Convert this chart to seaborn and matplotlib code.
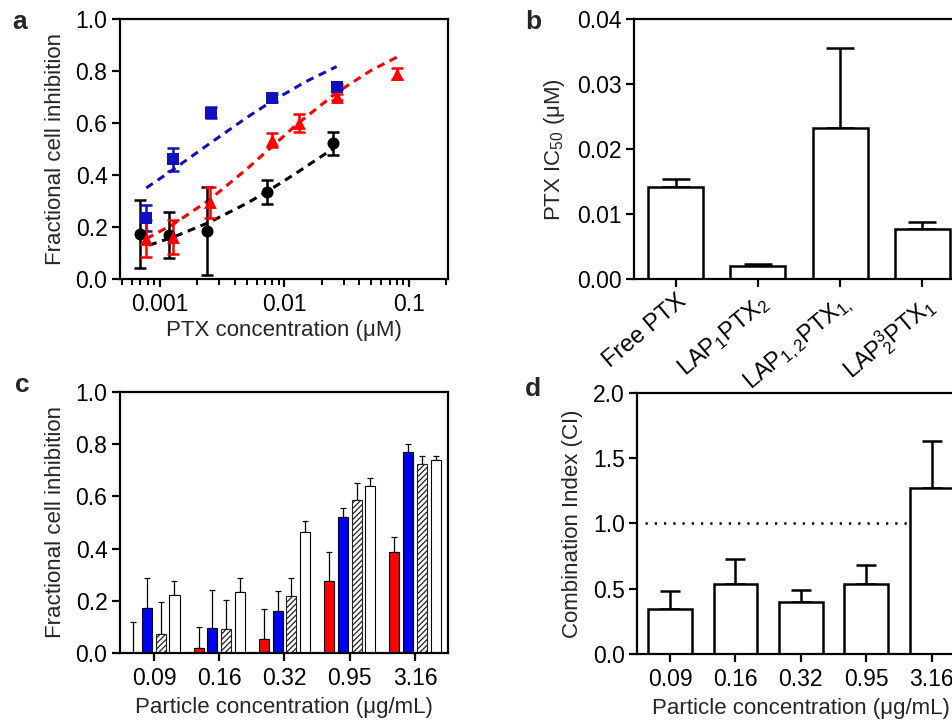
import numpy as np
import pandas as pd
import matplotlib
matplotlib.use("Agg")
import matplotlib.pyplot as plt
import seaborn as sns
from matplotlib.ticker import LogLocator, FuncFormatter, NullFormatter, MultipleLocator, FormatStrFormatter

sns.set_style("ticks")
plt.rcParams["font.family"] = ["Liberation Sans", "DejaVu Sans"]
plt.rcParams["mathtext.fontset"] = "custom"
plt.rcParams["mathtext.rm"] = "Liberation Sans"
plt.rcParams["mathtext.it"] = "Liberation Sans:italic"
plt.rcParams["mathtext.bf"] = "Liberation Sans:bold"
plt.rcParams["axes.linewidth"] = 1.6
plt.rcParams["axes.edgecolor"] = "black"
plt.rcParams["xtick.color"] = "black"
plt.rcParams["ytick.color"] = "black"
plt.rcParams["hatch.linewidth"] = 0.9

# ---- panel a: dose-response of PTX formulations ----
free_x = [0.0007, 0.00118, 0.0024, 0.0072, 0.0244]
free_y = [0.173, 0.168, 0.185, 0.336, 0.522]
free_err = [0.13, 0.088, 0.168, 0.046, 0.044]
lap1_x = [0.00077, 0.00128, 0.00258, 0.0079, 0.0267]
lap1_y = [0.235, 0.46, 0.64, 0.695, 0.74]
lap1_err = [0.05, 0.045, 0.02, 0.015, 0.01]
lap2_x = [0.00078, 0.00128, 0.00255, 0.0079, 0.0131, 0.0267, 0.0805]
lap2_y = [0.155, 0.163, 0.295, 0.535, 0.60, 0.70, 0.79]
lap2_err = [0.07, 0.065, 0.06, 0.027, 0.036, 0.012, 0.02]

# fitted median-effect curves
free_fit_x = [0.00082, 0.0013, 0.0025, 0.005, 0.0072, 0.012, 0.0244]
free_fit_y = [0.13, 0.162, 0.218, 0.291, 0.335, 0.402, 0.50]
lap1_fit_x = [0.00078, 0.0013, 0.0025, 0.005, 0.0079, 0.015, 0.0263]
lap1_fit_y = [0.35, 0.423, 0.52, 0.621, 0.683, 0.76, 0.817]
lap2_fit_x = [0.00078, 0.0013, 0.0025, 0.005, 0.0079, 0.013, 0.0267, 0.05, 0.08]
lap2_fit_y = [0.155, 0.212, 0.304, 0.423, 0.508, 0.60, 0.719, 0.803, 0.853]

# ---- panel b: IC50 ----
ic50_labels = ["Free PTX", "LAP$_1$PTX$_2$", "LAP$_{1,2}$PTX$_{1,}$", "LAP$^{3}_{2}$PTX$_1$"]
ic50_vals = [0.01414, 0.00209, 0.02325, 0.00773]
ic50_err = [0.0013, 0.0003, 0.0123, 0.0010]

# ---- panel c: particle concentration series ----
particle_conc = ["0.09", "0.16", "0.32", "0.95", "3.16"]
series_names = ["PTX", "LAP1", "LAP2", "Combination"]
c_ptx = [0.0, 0.019, 0.052, 0.274, 0.388]
c_ptx_err = [0.117, 0.081, 0.117, 0.112, 0.057]
c_lap1 = [0.173, 0.093, 0.159, 0.523, 0.769]
c_lap1_err = [0.114, 0.147, 0.079, 0.032, 0.033]
c_lap2 = [0.073, 0.092, 0.218, 0.588, 0.725]
c_lap2_err = [0.12, 0.109, 0.067, 0.063, 0.031]
c_combo = [0.22, 0.233, 0.463, 0.641, 0.74]
c_combo_err = [0.055, 0.052, 0.043, 0.028, 0.015]

# ---- panel d: combination index ----
ci_vals = [0.347, 0.536, 0.395, 0.536, 1.268]
ci_err = [0.138, 0.194, 0.095, 0.143, 0.362]

BLUE_A = "#1010C0"
RED = "#FF0000"
BLUE_C = "#0000F0"

W, H = 953, 723
fig = plt.figure(figsize=(W / 100, H / 100), dpi=100)


def box(l, t, r, b):
    return [l / W, 1 - b / H, (r - l) / W, (b - t) / H]


TICK_FS = 16.5
LABEL_FS = 16


def style_axis(ax):
    ax.tick_params(axis="both", which="major", length=6, width=1.6, labelsize=TICK_FS,
                   direction="out", pad=3)
    for s in ax.spines.values():
        s.set_linewidth(1.6)
        s.set_visible(True)


# ---------------- panel a ----------------
ax = fig.add_axes(box(120, 19, 448, 279))
fits = [(free_fit_x, free_fit_y, "black"), (lap1_fit_x, lap1_fit_y, BLUE_A),
        (lap2_fit_x, lap2_fit_y, RED)]
for fx, fy, col in fits:
    sns.lineplot(x=fx, y=fy, ax=ax, color=col, linewidth=2.2, zorder=2)
    ax.lines[-1].set_linestyle((0, (2.6, 1.9)))

pts = [(free_x, free_y, free_err, "black", "o", 75),
       (lap1_x, lap1_y, lap1_err, BLUE_A, "s", 75),
       (lap2_x, lap2_y, lap2_err, RED, "^", 85)]
for px, py, pe, col, mk, sz in pts:
    ax.errorbar(px, py, yerr=pe, fmt="none", ecolor=col, elinewidth=1.8,
                capsize=4, capthick=1.8, zorder=3)
    sns.scatterplot(x=px, y=py, ax=ax, color=col, marker=mk, s=sz,
                    edgecolor=col, linewidth=0, zorder=4)

ax.set_xscale("log")
ax.set_xlim(0.00048, 0.206)
ax.set_ylim(0, 1.0)
ax.yaxis.set_major_locator(MultipleLocator(0.2))
ax.yaxis.set_major_formatter(FormatStrFormatter("%.1f"))
ax.xaxis.set_major_locator(LogLocator(base=10, numticks=10))
ax.xaxis.set_major_formatter(FuncFormatter(lambda v, _: f"{v:g}"))
ax.xaxis.set_minor_locator(LogLocator(base=10, subs=np.arange(2, 10), numticks=10))
ax.xaxis.set_minor_formatter(NullFormatter())
style_axis(ax)
ax.tick_params(axis="x", which="minor", length=4, width=1.4)
ax.tick_params(axis="x", which="major", pad=4)
ax.set_xlabel("PTX concentration (μM)", fontsize=LABEL_FS, labelpad=3)
ax.set_ylabel("Fractional cell inhibition", fontsize=LABEL_FS, labelpad=7)

# ---------------- panel b ----------------
ax = fig.add_axes(box(634, 19, 964, 279.3))
dfb = pd.DataFrame({"formulation": ic50_labels, "ic50": ic50_vals})
sns.barplot(data=dfb, x="formulation", y="ic50", ax=ax, color="white", saturation=1,
            edgecolor="black", linewidth=1.8, width=0.67, errorbar=None, zorder=2)
for p, v, e in zip(ax.patches, ic50_vals, ic50_err):
    xc = p.get_x() + p.get_width() / 2
    ax.errorbar(xc, v, yerr=[[0], [e]], fmt="none", ecolor="black",
                elinewidth=1.8, capsize=10, capthick=1.8, zorder=1)
ax.set_xlim(-0.51, 3.51)
ax.set_ylim(0, 0.04)
ax.yaxis.set_major_locator(MultipleLocator(0.01))
ax.yaxis.set_major_formatter(FormatStrFormatter("%.2f"))
style_axis(ax)
ax.tick_params(axis="x", labelsize=17, pad=2)
ax.set_xlabel("")
ax.set_ylabel("PTX IC$_{50}$ (μM)", fontsize=LABEL_FS, labelpad=7)
for lab in ax.get_xticklabels():
    lab.set_rotation(40)
    lab.set_ha("right")
    lab.set_rotation_mode("anchor")

# ---------------- panel c ----------------
ax = fig.add_axes(box(120, 392.3, 448.3, 652.7))
c_vals = [c_ptx, c_lap1, c_lap2, c_combo]
c_errs = [c_ptx_err, c_lap1_err, c_lap2_err, c_combo_err]
dfc = pd.DataFrame({
    "conc": np.tile(particle_conc, len(series_names)),
    "series": np.repeat(series_names, len(particle_conc)),
    "value": np.concatenate(c_vals),
})
sns.barplot(data=dfc, x="conc", y="value", hue="series", hue_order=series_names,
            order=particle_conc, palette=[RED, BLUE_C, "white", "white"], saturation=1,
            width=0.84, gap=0.27, edgecolor="black", linewidth=0.8,
            errorbar=None, legend=False, ax=ax, zorder=2)
for i, (cont, vals, errs) in enumerate(zip(ax.containers, c_vals, c_errs)):
    xs = []
    for p in cont.patches:
        xs.append(p.get_x() + p.get_width() / 2)
        if i == 2:
            p.set_hatch("//////")
            p.set_edgecolor("#222222")
    ax.errorbar(xs, vals, yerr=[np.zeros(len(vals)), errs], fmt="none",
                ecolor="black", elinewidth=0.9, capsize=2, capthick=0.9, zorder=1)
ax.set_xlim(-0.52, 4.51)
ax.set_ylim(0, 1.0)
ax.yaxis.set_major_locator(MultipleLocator(0.2))
ax.yaxis.set_major_formatter(FormatStrFormatter("%.1f"))
style_axis(ax)
ax.tick_params(axis="x", pad=4)
ax.set_xlabel("Particle concentration (μg/mL)", fontsize=LABEL_FS, labelpad=5)
ax.set_ylabel("Fractional cell inhibition", fontsize=LABEL_FS, labelpad=7)

# ---------------- panel d ----------------
ax = fig.add_axes(box(637.3, 392.7, 964.4, 654))
dfd = pd.DataFrame({"conc": particle_conc, "ci": ci_vals})
sns.barplot(data=dfd, x="conc", y="ci", order=particle_conc, ax=ax, color="white",
            saturation=1, edgecolor="black", linewidth=1.8, width=0.67,
            errorbar=None, zorder=2)
for p, v, e in zip(ax.patches, ci_vals, ci_err):
    xc = p.get_x() + p.get_width() / 2
    ax.errorbar(xc, v, yerr=[[0], [e]], fmt="none", ecolor="black",
                elinewidth=1.8, capsize=7.5, capthick=1.8, zorder=1)
ax.axhline(1.0, xmin=0.025, color="black", linewidth=1.8,
           linestyle=(0, (0.9, 2.8)), zorder=0.5)
ax.set_xlim(-0.5, 4.5)
ax.set_ylim(0, 2.0)
ax.yaxis.set_major_locator(MultipleLocator(0.5))
ax.yaxis.set_major_formatter(FormatStrFormatter("%.1f"))
style_axis(ax)
ax.tick_params(axis="x", pad=4)
ax.set_xlabel("Particle concentration (μg/mL)", fontsize=LABEL_FS, labelpad=5)
ax.set_ylabel("Combination Index (CI)", fontsize=LABEL_FS, labelpad=7)

# panel letters
for letter, (x, y) in {"a": (20, 22), "b": (533, 22), "c": (22, 385), "d": (533, 389)}.items():
    fig.text(x / W, 1 - y / H, letter, fontsize=19, fontweight="bold",
             ha="center", va="center")

fig.savefig("out.png", dpi=100)
